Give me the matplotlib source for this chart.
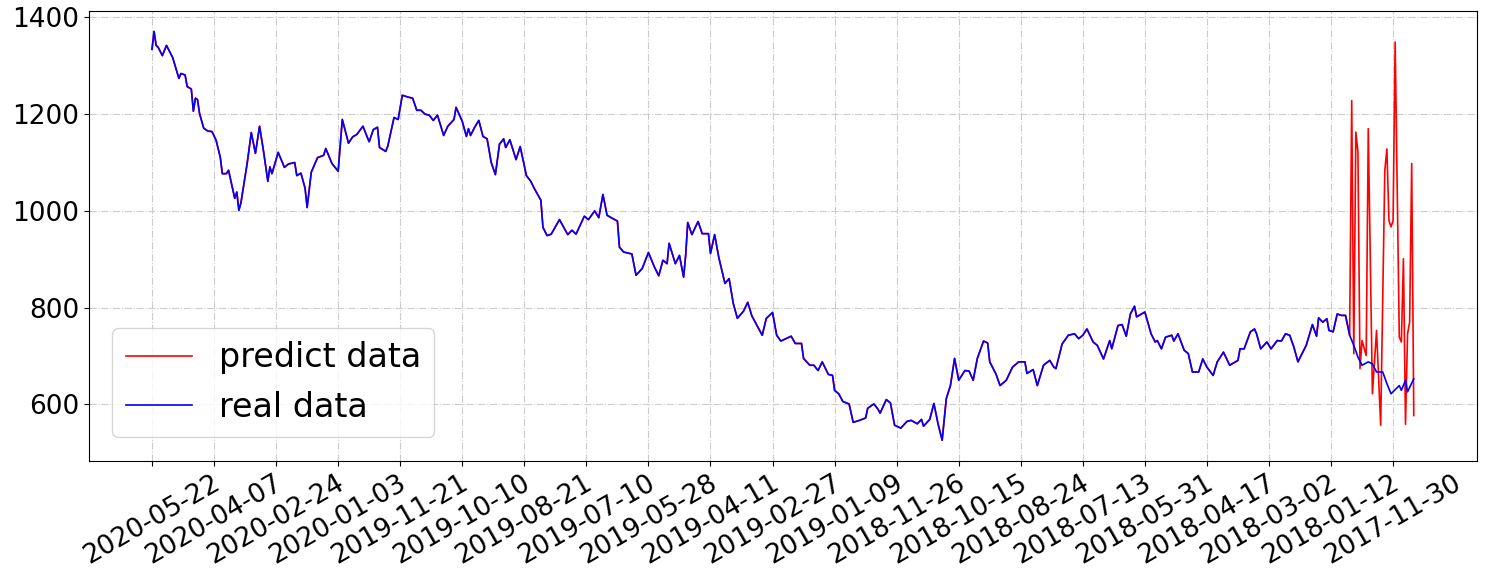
import matplotlib
matplotlib.use("Agg")
import matplotlib.pyplot as plt

# trading-day index (0 = newest) and closing values
real_idx = [0, 1, 2, 3, 5, 7, 10, 13, 14, 16, 17, 19, 20, 21, 22, 23, 25, 27, 29, 31,
            33, 34, 36, 37, 40, 41, 42, 43, 46, 48, 50, 52, 54, 56, 57, 58, 61, 64, 66, 69,
            70, 72, 74, 75, 77, 80, 83, 84, 87, 90, 92, 95, 97, 99, 102, 104, 105, 107, 109, 110,
            113, 114, 117, 119, 121, 124, 126, 128, 130, 132, 134, 136, 138, 141, 143, 146, 147, 150, 152, 153,
            154, 156, 158, 160, 162, 164, 166, 168, 170, 171, 173, 176, 178, 181, 183, 185, 188, 189, 191, 193,
            197, 201, 203, 205, 209, 211, 214, 216, 218, 220, 222, 225, 226, 228, 232, 234, 237, 240, 243, 245,
            247, 249, 250, 253, 255, 257, 258, 259, 261, 264, 266, 269, 270, 272, 274, 277, 279, 281, 283, 286,
            288, 290, 293, 295, 297, 300, 302, 304, 309, 311, 314, 315, 318, 320, 322, 324, 327, 329, 330, 332,
            334, 337, 339, 342, 345, 346, 349, 351, 352, 355, 357, 359, 362, 365, 367, 370, 372, 373, 376, 378,
            380, 382, 384, 386, 388, 390, 393, 395, 397, 399, 402, 404, 405, 408, 410, 413, 416, 419, 422, 423,
            426, 428, 431, 434, 436, 437, 440, 443, 446, 448, 450, 452, 455, 457, 460, 463, 464, 467, 469, 471,
            473, 475, 476, 480, 483, 485, 486, 488, 490, 493, 494, 496, 499, 501, 503, 506, 508, 510, 513, 515,
            518, 521, 525, 526, 528, 531, 533, 534, 536, 539, 541, 544, 546, 548, 550, 552, 554, 556, 558, 561,
            563, 564, 566, 568, 569, 571, 573, 575, 577, 579, 581, 583, 585, 588, 590, 592, 595, 597, 599, 603,
            604, 606, 607, 610]
real_val = [1334, 1371, 1342, 1338, 1321, 1342, 1317, 1274, 1284, 1281, 1257, 1252, 1206, 1233, 1230, 1201, 1171, 1165, 1164, 1146,
            1111, 1077, 1077, 1084, 1026, 1039, 1001, 1017, 1098, 1162, 1119, 1175, 1121, 1061, 1091, 1077, 1121, 1090, 1097, 1100,
            1073, 1078, 1047, 1007, 1080, 1110, 1115, 1129, 1098, 1082, 1189, 1140, 1153, 1158, 1175, 1153, 1143, 1168, 1173, 1131,
            1123, 1134, 1193, 1189, 1239, 1235, 1233, 1208, 1208, 1200, 1198, 1187, 1198, 1156, 1175, 1189, 1214, 1185, 1154, 1170,
            1156, 1173, 1187, 1154, 1149, 1100, 1075, 1138, 1149, 1131, 1147, 1106, 1133, 1073, 1062, 1045, 1022, 966, 949, 952,
            982, 951, 960, 952, 989, 982, 1000, 986, 1034, 991, 986, 979, 925, 915, 911, 867, 881, 914, 883, 866,
            898, 891, 933, 891, 908, 863, 908, 976, 951, 978, 953, 953, 912, 951, 904, 850, 860, 809, 778, 793,
            811, 783, 759, 743, 778, 790, 743, 731, 741, 726, 726, 695, 681, 681, 670, 688, 662, 660, 629, 622,
            606, 601, 563, 567, 572, 592, 601, 590, 582, 610, 603, 557, 551, 565, 567, 560, 569, 555, 569, 602,
            560, 526, 612, 639, 695, 650, 670, 669, 650, 695, 731, 727, 688, 663, 639, 650, 677, 688, 688, 664,
            672, 639, 681, 691, 677, 674, 725, 743, 746, 736, 743, 756, 729, 722, 694, 732, 715, 763, 765, 741,
            787, 803, 781, 791, 746, 729, 732, 715, 739, 743, 731, 746, 712, 705, 667, 667, 694, 677, 660, 688,
            708, 681, 691, 715, 715, 750, 756, 746, 715, 729, 715, 732, 731, 746, 743, 719, 688, 705, 722, 765,
            741, 779, 770, 777, 753, 750, 787, 784, 784, 743, 722, 698, 681, 688, 684, 667, 667, 643, 622, 639,
            629, 650, 626, 653]

# model output on the last stretch (earlier it coincides with the real series)
pred_tail_idx = [579, 580, 581, 582, 583, 584, 585, 587, 588, 590, 592, 594, 596, 597, 598, 599, 600, 601, 603, 604,
                 605, 606, 607, 608, 609, 610]
pred_tail_val = [743, 1228, 705, 1163, 1122, 674, 732, 701, 1170, 622, 753, 557, 1084, 1128, 980, 967, 980, 1349, 739, 729,
                 901, 559, 746, 770, 1098, 577]

tick_labels = ["2020-05-22", "2020-04-07", "2020-02-24", "2020-01-03", "2019-11-21", "2019-10-10",
               "2019-08-21", "2019-07-10", "2019-05-28", "2019-04-11", "2019-02-27", "2019-01-09",
               "2018-11-26", "2018-10-15", "2018-08-24", "2018-07-13", "2018-05-31", "2018-04-17",
               "2018-03-02", "2018-01-12", "2017-11-30"]

pred_idx = [i for i in real_idx if i < pred_tail_idx[0]] + pred_tail_idx
pred_val = [v for i, v in zip(real_idx, real_val) if i < pred_tail_idx[0]] + pred_tail_val

fig, ax = plt.subplots(figsize=(15.07, 5.78), dpi=100)
fig.subplots_adjust(left=0.059, right=0.98, top=0.981, bottom=0.203)
ax.plot(pred_idx, pred_val, color="red", lw=1.2, label="predict data")
ax.plot(real_idx, real_val, color="blue", lw=1.2, label="real data")
ax.set_xticks(range(0, 30 * len(tick_labels), 30))
ax.set_xticklabels(tick_labels, rotation=30, fontsize=19)
ax.set_yticks([600, 800, 1000, 1200, 1400])
ax.tick_params(axis="y", labelsize=19)
ax.grid(True, linestyle="-.", color="#cccccc", lw=0.8)
ax.legend(loc="lower left", fontsize=24, bbox_to_anchor=(0.0, 0.0), borderaxespad=0.7)
fig.savefig("out.png", dpi=100)
